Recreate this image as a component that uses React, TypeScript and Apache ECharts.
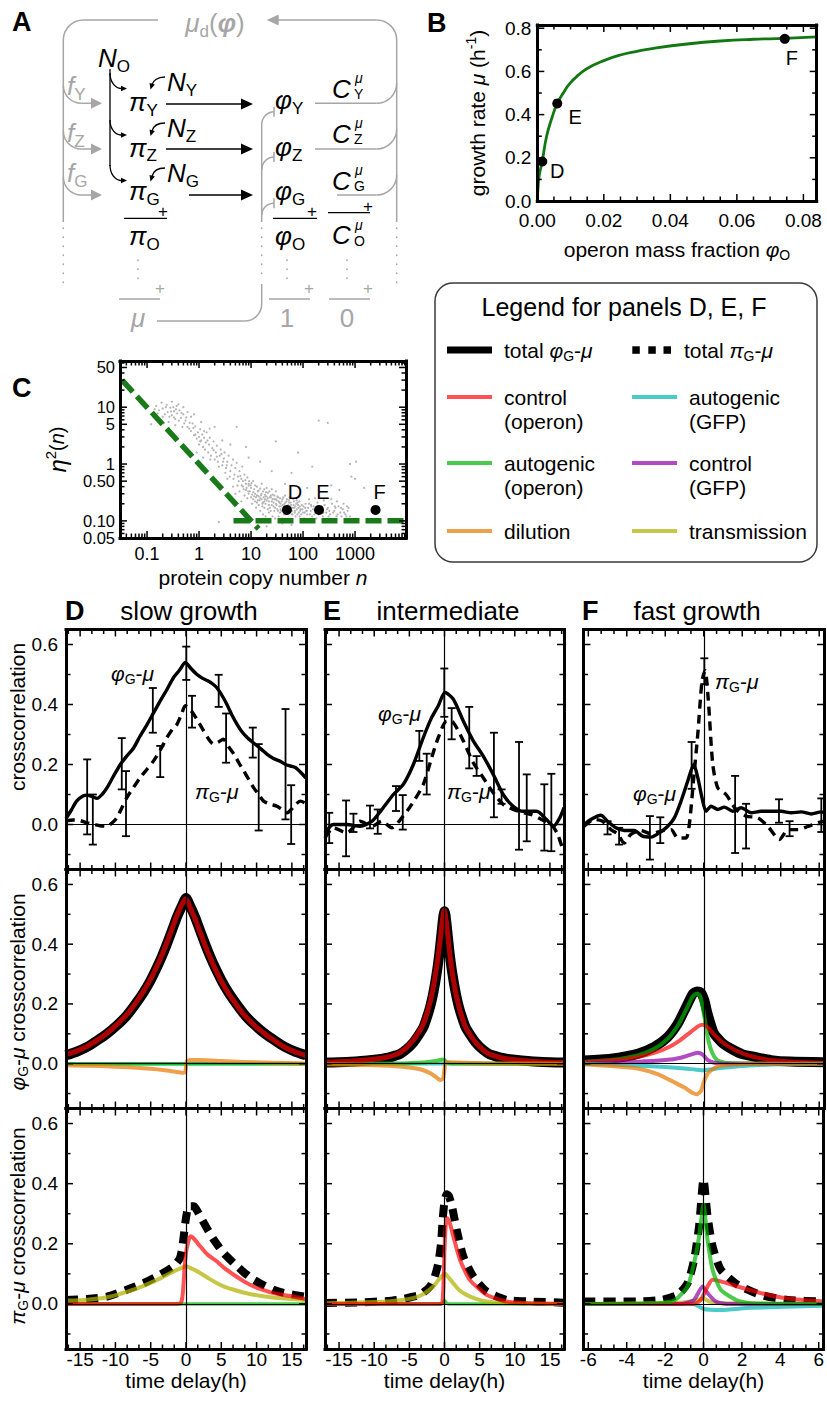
import { useEffect, useRef } from "react";
import * as echarts from "echarts";

const FONT = "'Liberation Sans', Arial, Helvetica, sans-serif";
const BLACK = "#000000";
const GRAY = "#a6a6a6";
const DARK_GREEN = "#1a7a1a";
const RED = "rgba(255,0,0,0.68)";
const GREEN = "rgba(0,180,0,0.7)";
const CYAN = "rgba(0,178,178,0.7)";
const PURPLE = "rgba(145,0,170,0.7)";
const ORANGE = "rgba(232,120,0,0.7)";
const OLIVE = "rgba(178,178,0,0.72)";

// ---------- Panel B: growth law ----------
const operonFraction = [0, 0.0002, 0.0006, 0.0015, 0.0028, 0.0045, 0.006, 0.008, 0.0098, 0.0125, 0.015, 0.02, 0.025, 0.03, 0.035, 0.045, 0.055, 0.065, 0.0744, 0.084];
const growthRate = [0, 0.06, 0.12, 0.185, 0.3, 0.39, 0.452, 0.505, 0.545, 0.585, 0.614, 0.65, 0.676, 0.693, 0.707, 0.727, 0.741, 0.749, 0.753, 0.76];
const conditionNames = ["D", "E", "F"];
const conditionFraction = [0.0015, 0.006, 0.0744];
const conditionRate = [0.183, 0.452, 0.751];
const fractionTicks = [0, 0.02, 0.04, 0.06, 0.08];
const rateTicks = [0, 0.2, 0.4, 0.6, 0.8];

// ---------- Panel C: noise vs copy number ----------
const copyNumberTicks = [0.1, 1, 10, 100, 1000];
const copyNumberTickText = ["0.1", "1", "10", "100", "1000"];
const noiseTicks = [0.05, 0.1, 0.5, 1, 5, 10, 50];
const noiseTickText = ["0.05", "0.10", "0.50", "1", "5", "10", "50"];
const poissonLimit: [number, number][] = [[0.033, 30], [14, 0.072]];
const extrinsicFloor: [number, number][] = [[4.6, 0.1], [9500, 0.1]];
const conditionCopyNumber = [49, 203, 2480];
const conditionNoise = [0.156, 0.156, 0.156];
const noiseCloud: [number, number][] = [
  [0.15, 10.5], [0.17, 8.8], [0.19, 12], [0.2, 9.5], [0.22, 7.5], [0.24, 11], [0.25, 8.2], [0.27, 6.8], [0.28, 9.8], [0.3, 12.5],
  [0.3, 7.2], [0.32, 10], [0.33, 8.5], [0.35, 6.2], [0.36, 9.2], [0.38, 7.8], [0.4, 11.2], [0.18, 6], [0.13, 7.2], [0.21, 5.2],
  [0.26, 5.5], [0.45, 6.5], [0.42, 8.8], [0.5, 7.5], [0.55, 5.8], [0.6, 8.2], [0.12, 5], [0.35, 4.8], [0.48, 4.5], [0.65, 4.2],
  [0.6, 4.5], [0.7, 3.8], [0.75, 5.2], [0.8, 3.2], [0.85, 4.6], [0.9, 2.8], [0.95, 3.6], [1, 3], [1, 2.2], [1.05, 4.1],
  [1.1, 2.6], [1.15, 3.3], [1.2, 2], [1.25, 2.9], [1.3, 1.8], [1.35, 2.4], [1.4, 3.6], [1.5, 1.6], [1.55, 2.2], [1.6, 2.9],
  [1.7, 1.4], [1.8, 1.9], [1.9, 2.5], [2, 1.2], [2.1, 1.6], [2.2, 2.1], [2.3, 1.1], [2.5, 1.4], [2.6, 1.8], [2.8, 0.95],
  [3, 1.25], [3.1, 1.6], [3.3, 0.85], [3.5, 1.1], [3.7, 1.4], [4, 0.75], [4.2, 0.95], [4.5, 1.2], [4.8, 0.65], [5, 0.85],
  [5.3, 1.05], [5.6, 0.6], [6, 0.75], [6.5, 0.55], [6.8, 0.9], [7, 0.5], [7.5, 0.65], [8, 0.45], [8.5, 0.58], [9, 0.42],
  [0.9, 1.6], [1.2, 1.3], [2.4, 0.9], [3.2, 0.7], [1.1, 5.5], [0.7, 6.8], [2.8, 2.6], [1.6, 4.2],
  [8, 0.35], [9, 0.3], [10, 0.38], [10, 0.26], [11, 0.32], [12, 0.22], [12, 0.42], [13, 0.28], [14, 0.19], [14, 0.34],
  [15, 0.25], [16, 0.3], [17, 0.21], [18, 0.36], [18, 0.17], [19, 0.27], [20, 0.23], [21, 0.31], [22, 0.19], [23, 0.26],
  [24, 0.15], [25, 0.22], [26, 0.29], [27, 0.18], [28, 0.24], [30, 0.2], [30, 0.33], [32, 0.16], [33, 0.26], [35, 0.21],
  [36, 0.14], [38, 0.18], [40, 0.24], [42, 0.17], [44, 0.2], [46, 0.13], [48, 0.22], [50, 0.16], [52, 0.19], [55, 0.14],
  [58, 0.21], [60, 0.17], [63, 0.13], [66, 0.19], [70, 0.15], [74, 0.2], [78, 0.13], [82, 0.17], [86, 0.12], [90, 0.16],
  [95, 0.19], [100, 0.14], [7, 0.4], [9, 0.45], [11, 0.5], [13, 0.4], [16, 0.45], [20, 0.38], [25, 0.36], [6, 0.33],
  [7.5, 0.28], [8.5, 0.25], [10.5, 0.2], [12.5, 0.17], [15, 0.15], [17, 0.13], [19, 0.12], [22, 0.14], [26, 0.12], [29, 0.11],
  [34, 0.12], [40, 0.11], [45, 0.28], [55, 0.26], [65, 0.24], [75, 0.23], [85, 0.22], [5, 0.3], [5.5, 0.42], [6.5, 0.22],
  [3.5, 0.55], [4.5, 0.4], [11.5, 0.27], [13.5, 0.23], [16.5, 0.2], [18.5, 0.24], [21, 0.16], [24, 0.28], [28, 0.15], [31, 0.23],
  [37, 0.16], [43, 0.15], [47, 0.18], [53, 0.23], [57, 0.16], [62, 0.15], [68, 0.17], [72, 0.12], [80, 0.19], [88, 0.15],
  [110, 0.17], [120, 0.13], [130, 0.2], [140, 0.15], [150, 0.12], [160, 0.18], [175, 0.14], [190, 0.21], [200, 0.13], [220, 0.16],
  [240, 0.12], [260, 0.19], [280, 0.14], [300, 0.17], [330, 0.13], [360, 0.2], [400, 0.15], [440, 0.12], [480, 0.18], [520, 0.14],
  [580, 0.16], [650, 0.13], [720, 0.15], [800, 0.12], [130, 0.24], [170, 0.25], [250, 0.23], [350, 0.24], [450, 0.22], [600, 0.2],
  [105, 0.11], [180, 0.11], [270, 0.105], [115, 0.15], [145, 0.18], [210, 0.15], [320, 0.15], [420, 0.17], [550, 0.12], [700, 0.18],
  [2.4, 0.095], [5.3, 4.5], [0.3, 3.5], [60, 0.7], [150, 0.9], [800, 1.0], [1000, 0.55], [300, 5.3], [200, 5.8], [30, 2.5],
  [8, 2], [1050, 1.1], [850, 0.6], [1500, 0.38], [500, 0.35], [20, 0.08], [60, 0.085], [40, 0.09], [150, 0.095], [15, 1.1],
  [45, 0.45], [120, 0.38], [350, 0.42], [25, 0.75], [9, 1.3], [4, 2.2], [2, 4.5], [80, 1.6], [0.5, 10], [0.8, 7.5],
  [9.5, 0.33], [10.5, 0.29], [11, 0.24], [11.5, 0.36], [12, 0.3], [12.5, 0.26], [13, 0.21], [13.5, 0.33], [14, 0.27], [14.5, 0.23],
  [15, 0.37], [15.5, 0.28], [16, 0.24], [16.5, 0.18], [17, 0.33], [17.5, 0.26], [18, 0.22], [18.5, 0.29], [19, 0.2], [19.5, 0.32],
  [20, 0.27], [21, 0.25], [22, 0.22], [22.5, 0.33], [23, 0.17], [24, 0.26], [25, 0.19], [26, 0.24], [27, 0.21], [28, 0.28],
  [29, 0.17], [30, 0.24], [31, 0.19], [32, 0.27], [33, 0.15], [34, 0.22], [35, 0.18], [36, 0.25], [37, 0.2], [38, 0.15],
  [39, 0.22], [41, 0.19], [42, 0.26], [43, 0.13], [44, 0.17], [46, 0.21], [47, 0.16], [49, 0.24], [51, 0.14], [53, 0.18],
  [54, 0.21], [56, 0.16], [59, 0.19], [61, 0.13], [64, 0.17], [67, 0.22], [69, 0.14], [71, 0.18], [76, 0.16], [79, 0.21],
  [83, 0.14], [87, 0.18], [92, 0.13], [97, 0.16], [102, 0.18], [108, 0.14], [112, 0.2], [118, 0.15], [125, 0.17], [135, 0.13],
  [142, 0.19], [155, 0.16], [165, 0.13], [185, 0.17], [195, 0.14], [230, 0.18], [245, 0.14], [290, 0.16], [310, 0.12], [380, 0.14],
  [410, 0.18], [460, 0.13], [540, 0.17], [620, 0.14], [680, 0.12], [750, 0.17],
  [5.8, 0.5], [6.2, 0.62], [6.6, 0.42], [7.2, 0.36], [7.8, 0.52], [8.2, 0.38], [8.8, 0.33], [9.2, 0.5], [9.8, 0.42], [10.2, 0.46],
  [4.6, 0.55], [3.9, 0.6], [3.4, 0.95], [2.9, 1.1], [2.7, 1.5], [2.2, 1.35], [1.9, 1.75], [1.65, 1.2], [1.45, 2.6], [1.25, 3.8],
  [1.05, 2.5], [0.85, 3.3], [0.78, 4.3], [0.66, 5.3], [0.57, 6.6], [0.52, 5.2], [0.46, 7.9], [0.41, 5.8], [0.37, 10.5], [0.33, 6.6],
  [0.29, 8.4], [0.23, 10], [0.2, 6.8], [0.16, 7.8], [0.14, 9.2],
];

// ---------- Panels D/E/F, top row: measured crosscorrelations ----------
const slowMeasuredPhi: [number, number][] = [[-17, 0.02], [-16.2, 0.05], [-15.5, 0.078], [-14.6, 0.095], [-14, 0.098], [-13.3, 0.093], [-12.6, 0.087], [-11.9, 0.1], [-11.2, 0.122], [-10.3, 0.16], [-9.3, 0.2], [-8.4, 0.228], [-7.4, 0.256], [-6.5, 0.295], [-5.5, 0.334], [-4.6, 0.372], [-3.65, 0.412], [-2.7, 0.45], [-1.76, 0.49], [-0.9, 0.515], [-0.1, 0.54], [0.7, 0.52], [1.56, 0.5], [2.3, 0.488], [2.98, 0.48], [3.7, 0.47], [4.4, 0.455], [5.1, 0.43], [5.8, 0.4], [6.5, 0.365], [7.24, 0.334], [7.9, 0.31], [8.66, 0.29], [9.4, 0.275], [10.1, 0.262], [10.8, 0.248], [11.5, 0.234], [12.4, 0.22], [13.4, 0.21], [14.1, 0.2], [14.8, 0.195], [15.5, 0.19], [16.2, 0.175], [17, 0.155]];
const slowMeasuredPi: [number, number][] = [[-17, 0.012], [-16, 0.015], [-15, 0.013], [-14, 0.005], [-13, 0.0], [-12.2, -0.004], [-11.2, -0.006], [-10.5, 0.005], [-9.8, 0.022], [-9.1, 0.055], [-8.4, 0.089], [-7.4, 0.125], [-6.5, 0.156], [-5.5, 0.185], [-4.6, 0.212], [-3.6, 0.25], [-2.7, 0.29], [-1.9, 0.318], [-1.28, 0.334], [-0.6, 0.37], [-0.1, 0.396], [0.5, 0.385], [1.08, 0.368], [1.8, 0.34], [2.5, 0.312], [3.2, 0.285], [3.9, 0.268], [4.6, 0.275], [5.3, 0.284], [6.0, 0.26], [6.8, 0.234], [7.5, 0.205], [8.2, 0.178], [8.9, 0.15], [9.6, 0.122], [10.3, 0.1], [11, 0.078], [11.9, 0.068], [12.9, 0.061], [13.6, 0.05], [14.35, 0.039], [14.9, 0.05], [15.3, 0.061], [16.2, 0.078], [17, 0.07]];
const slowErrorBars: [number, number, number][] = [[-14, -0.033, 0.217], [-13.2, -0.067, 0.1], [-9.1, 0.117, 0.288], [-8.5, -0.039, 0.178], [-4.7, 0.306, 0.455], [-3.65, 0.158, 0.262], [0.04, 0.482, 0.593], [0.85, 0.323, 0.429], [4.63, 0.392, 0.499], [5.68, 0.206, 0.37], [9.46, 0.223, 0.323], [10.3, -0.02, 0.268], [14.1, 0.017, 0.385], [14.9, -0.065, 0.131]];

const midMeasuredPhi: [number, number][] = [[-17, -0.028], [-15.8, 0.0], [-13.9, 0.0], [-12, -0.006], [-10.3, 0.011], [-8.9, 0.05], [-7.27, 0.1], [-5.85, 0.134], [-4.43, 0.2], [-3.01, 0.29], [-1.82, 0.357], [-0.88, 0.396], [0.07, 0.44], [1.25, 0.418], [2.67, 0.345], [4.09, 0.279], [5.51, 0.228], [6.93, 0.167], [8.35, 0.1], [9.77, 0.061], [11.2, 0.044], [13.1, 0.044], [14.5, 0.017], [15.5, -0.006], [16.4, 0.022], [17, 0.056]];
const midMeasuredPi: [number, number][] = [[-17, -0.045], [-15.8, -0.011], [-13.9, -0.028], [-12, 0.011], [-10.3, -0.006], [-8.9, 0.011], [-7.5, -0.011], [-6.08, 0.022], [-4.66, 0.067], [-3.01, 0.134], [-1.82, 0.223], [-0.88, 0.29], [0.31, 0.345], [1.25, 0.34], [2.67, 0.279], [4.09, 0.206], [5.51, 0.156], [6.93, 0.106], [8.35, 0.067], [10.5, 0.044], [12.4, 0.033], [13.8, 0.017], [15.2, 0.0], [16.1, -0.033], [16.9, -0.089]];
const midErrorBars: [number, number, number][] = [[-16.4, -0.062, 0.039], [-14, -0.106, 0.08], [-12.95, -0.025, 0.036], [-10.6, -0.013, 0.063], [-9.5, -0.031, 0.05], [-6.9, 0.045, 0.128], [-5.94, -0.017, 0.098], [-3.58, 0.212, 0.312], [-2.53, 0.1, 0.236], [-0.03, 0.359, 0.52], [1.02, 0.284, 0.388], [3.52, 0.187, 0.392], [4.57, 0.162, 0.228], [7.03, 0.024, 0.306], [8.12, 0.069, 0.117], [10.6, -0.084, 0.275], [11.7, -0.056, 0.167], [14.2, -0.087, 0.134], [15.2, -0.089, 0.169]];

const fastMeasuredPhi: [number, number][] = [[-6.22, 0], [-5.87, 0.017], [-5.35, 0.031], [-5.0, 0.011], [-4.57, -0.011], [-4.13, -0.02], [-3.61, -0.02], [-3.18, -0.039], [-2.74, -0.042], [-2.31, -0.028], [-1.87, -0.006], [-1.53, 0.022], [-1.18, 0.078], [-0.83, 0.145], [-0.52, 0.2], [-0.31, 0.156], [-0.09, 0.089], [0.12, 0.044], [0.38, 0.061], [0.73, 0.05], [1.07, 0.058], [1.51, 0.044], [1.94, 0.056], [2.46, 0.039], [2.98, 0.044], [3.5, 0.044], [4.03, 0.044], [4.55, 0.039], [5.07, 0.042], [5.59, 0.035], [6.11, 0.042], [6.25, 0.04]];
const fastMeasuredPi: [number, number][] = [[-6.22, -0.006], [-5.7, 0.017], [-5.26, 0.011], [-4.83, -0.017], [-4.48, -0.031], [-4.13, -0.062], [-3.79, -0.033], [-3.27, -0.02], [-2.74, -0.031], [-2.22, -0.022], [-1.7, -0.017], [-1.35, -0.045], [-0.92, -0.045], [-0.75, 0.0], [-0.52, 0.156], [-0.31, 0.301], [-0.09, 0.479], [0.07, 0.513], [0.24, 0.412], [0.47, 0.2], [0.73, 0.122], [1.16, 0.1], [1.68, 0.05], [2.2, 0.028], [2.81, 0.022], [3.33, -0.006], [3.94, -0.05], [4.38, -0.017], [4.9, -0.017], [5.42, -0.006], [5.94, 0.006], [6.25, 0.011]];
const fastErrorBars: [number, number, number][] = [[-5.0, -0.033, 0.011], [-4.4, -0.067, -0.011], [-2.8, -0.117, 0.028], [-2.26, -0.062, 0.024], [-0.63, 0.119, 0.275], [0.03, 0.468, 0.554], [1.63, -0.095, 0.162], [2.2, -0.08, 0.069], [3.91, 0.006, 0.084], [4.46, -0.039, 0.011], [6.11, -0.025, 0.087]];

// ---------- middle row: model φG-μ contributions ----------
const slowPhiTotal: [number, number][] = [[-17, 0.028], [-15.5, 0.04], [-14, 0.056], [-12.6, 0.077], [-11.2, 0.1], [-9.8, 0.128], [-8.4, 0.161], [-7.2, 0.198], [-6, 0.239], [-5, 0.28], [-4.1, 0.323], [-3.4, 0.36], [-2.7, 0.401], [-2, 0.445], [-1.3, 0.49], [-0.6, 0.527], [0, 0.555], [0.6, 0.527], [1.3, 0.49], [2, 0.445], [2.7, 0.401], [3.4, 0.36], [4.1, 0.323], [5, 0.28], [6, 0.239], [7.2, 0.198], [8.4, 0.161], [9.8, 0.128], [11.2, 0.1], [12.6, 0.077], [14, 0.056], [15.5, 0.04], [17, 0.028]];
const slowPhiControl: [number, number][] = [[-17, 0.03], [-15.5, 0.042], [-14, 0.058], [-12.6, 0.079], [-11.2, 0.102], [-9.8, 0.131], [-8.4, 0.164], [-7.2, 0.201], [-6, 0.243], [-5, 0.284], [-4.1, 0.327], [-3.4, 0.364], [-2.7, 0.405], [-2, 0.45], [-1.3, 0.495], [-0.6, 0.532], [0, 0.552], [0.6, 0.522], [1.3, 0.484], [2, 0.44], [2.7, 0.396], [3.4, 0.356], [4.1, 0.319], [5, 0.276], [6, 0.236], [7.2, 0.195], [8.4, 0.159], [9.8, 0.126], [11.2, 0.099], [12.6, 0.076], [14, 0.055], [15.5, 0.039], [17, 0.027]];
const slowPhiDilution: [number, number][] = [[-17, -0.005], [-12, -0.008], [-8, -0.012], [-5, -0.017], [-3, -0.022], [-1.5, -0.027], [-0.5, -0.03], [-0.1, -0.028], [0.1, 0.008], [0.5, 0.012], [2, 0.012], [5, 0.009], [8, 0.006], [12, 0.003], [17, 0.001]];
const slowPhiFlat: [number, number][] = [[-17, 0], [17, 0]];

const midPhiTotal: [number, number][] = [[-17, 0.004], [-14, 0.006], [-11, 0.011], [-9, 0.016], [-8, 0.02], [-7, 0.027], [-6.3, 0.033], [-5.4, 0.048], [-4.4, 0.072], [-3.7, 0.095], [-3, 0.122], [-2.5, 0.155], [-2.06, 0.189], [-1.7, 0.225], [-1.35, 0.268], [-1, 0.32], [-0.74, 0.368], [-0.5, 0.42], [-0.28, 0.47], [-0.12, 0.5], [0, 0.51], [0.12, 0.5], [0.28, 0.47], [0.5, 0.42], [0.74, 0.368], [1, 0.32], [1.35, 0.268], [1.7, 0.225], [2.06, 0.189], [2.5, 0.155], [3, 0.122], [3.7, 0.095], [4.4, 0.072], [5.4, 0.048], [6.3, 0.033], [7, 0.027], [8, 0.02], [9, 0.016], [11, 0.011], [14, 0.006], [17, 0.004]];
const midPhiControl: [number, number][] = [[-17, 0.005], [-14, 0.007], [-11, 0.012], [-9, 0.018], [-8, 0.023], [-7, 0.03], [-6.3, 0.038], [-5.4, 0.054], [-4.4, 0.08], [-3.7, 0.104], [-3, 0.134], [-2.5, 0.168], [-2.06, 0.205], [-1.7, 0.243], [-1.35, 0.29], [-1, 0.342], [-0.74, 0.392], [-0.5, 0.44], [-0.28, 0.484], [-0.12, 0.508], [0, 0.514], [0.12, 0.5], [0.28, 0.47], [0.5, 0.424], [0.74, 0.371], [1, 0.322], [1.35, 0.27], [1.7, 0.226], [2.06, 0.19], [2.5, 0.155], [3, 0.122], [3.7, 0.095], [4.4, 0.072], [5.4, 0.048], [6.3, 0.033], [7, 0.027], [8, 0.02], [9, 0.016], [11, 0.011], [14, 0.006], [17, 0.004]];
const midPhiAutogenic: [number, number][] = [[-17, 0], [-6, 0.001], [-3, 0.004], [-1.5, 0.008], [-0.5, 0.013], [-0.1, 0.014], [0.2, 0.006], [1, 0.001], [17, 0]];
const midPhiDilution: [number, number][] = [[-17, -0.002], [-10, -0.005], [-6, -0.01], [-4, -0.016], [-3, -0.022], [-2, -0.032], [-1.2, -0.045], [-0.6, -0.055], [-0.2, -0.05], [0, -0.02], [0.15, 0.004], [1, 0.005], [3, 0.003], [8, 0.001], [17, 0]];
const midPhiFlat: [number, number][] = [[-17, 0], [17, 0]];

const fastPhiTotal: [number, number][] = [[-6.25, 0.011], [-4.83, 0.017], [-3.44, 0.033], [-2.57, 0.056], [-1.88, 0.089], [-1.35, 0.134], [-0.92, 0.189], [-0.57, 0.234], [-0.35, 0.242], [-0.15, 0.238], [0.03, 0.212], [0.2, 0.167], [0.5, 0.105], [0.73, 0.085], [1.0, 0.067], [1.42, 0.05], [2.0, 0.032], [2.7, 0.022], [3.5, 0.012], [4.5, 0.007], [6.25, 0.005]];
const fastPhiControl: [number, number][] = [[-6.25, 0.005], [-4.5, 0.012], [-3.44, 0.022], [-2.5, 0.038], [-1.8, 0.056], [-1.2, 0.08], [-0.7, 0.105], [-0.3, 0.125], [-0.05, 0.13], [0.2, 0.122], [0.5, 0.1], [1, 0.07], [1.5, 0.05], [2.2, 0.03], [3.2, 0.015], [4.5, 0.007], [6.25, 0.003]];
const fastPhiAutogenic: [number, number][] = [[-6.25, 0.006], [-4.83, 0.012], [-3.44, 0.028], [-2.57, 0.05], [-1.88, 0.083], [-1.35, 0.127], [-0.92, 0.18], [-0.57, 0.225], [-0.35, 0.235], [-0.2, 0.228], [-0.05, 0.19], [0.1, 0.13], [0.25, 0.075], [0.45, 0.035], [0.7, 0.012], [1.2, 0.002], [6.25, 0]];
const fastPhiControlGfp: [number, number][] = [[-6.25, 0], [-3.5, 0.006], [-2, 0.012], [-1.2, 0.02], [-0.6, 0.032], [-0.3, 0.037], [-0.05, 0.03], [0.2, 0.013], [0.5, 0.004], [1, 0], [6.25, 0]];
const fastPhiAutogenicGfp: [number, number][] = [[-6.25, 0], [-3.5, -0.006], [-2, -0.011], [-1, -0.016], [-0.4, -0.02], [0, -0.022], [0.4, -0.019], [1, -0.014], [2, -0.008], [3.5, -0.003], [6.25, 0]];
const fastPhiDilution: [number, number][] = [[-6.25, -0.002], [-4.8, -0.008], [-3.44, -0.016], [-2.4, -0.035], [-1.6, -0.06], [-1, -0.08], [-0.6, -0.097], [-0.35, -0.102], [-0.15, -0.092], [0.03, -0.056], [0.2, -0.033], [0.38, -0.022], [0.7, -0.01], [1.2, -0.004], [3, 0], [6.25, 0]];

// ---------- bottom row: model πG-μ contributions ----------
const slowPiTotal: [number, number][] = [[-17, 0.013], [-14, 0.016], [-11.2, 0.024], [-8.4, 0.047], [-6, 0.069], [-3.65, 0.097], [-1.76, 0.125], [-0.9, 0.15], [-0.57, 0.181], [-0.3, 0.23], [-0.1, 0.27], [0.1, 0.3], [0.38, 0.325], [1.08, 0.325], [2, 0.292], [3, 0.25], [3.92, 0.214], [5.3, 0.17], [6.76, 0.136], [8.2, 0.105], [9.6, 0.08], [11, 0.062], [12.4, 0.047], [13.8, 0.037], [15.3, 0.03], [17, 0.024]];
const slowPiControl: [number, number][] = [[-17, 0], [-1.5, 0], [-0.9, 0.001], [-0.6, 0.01], [-0.4, 0.05], [-0.2, 0.12], [0, 0.17], [0.3, 0.205], [0.6, 0.225], [1, 0.22], [2, 0.192], [3, 0.165], [4.4, 0.141], [5.5, 0.118], [6.76, 0.097], [8.2, 0.075], [9.6, 0.058], [11, 0.046], [12.4, 0.036], [14, 0.029], [15.3, 0.024], [17, 0.016]];
const slowPiTransmission: [number, number][] = [[-17, 0.011], [-14, 0.014], [-11.2, 0.022], [-8.4, 0.04], [-6, 0.06], [-3.65, 0.085], [-1.76, 0.108], [-0.6, 0.12], [0, 0.125], [0.6, 0.12], [2, 0.103], [3.2, 0.085], [4.4, 0.069], [5.5, 0.057], [6.76, 0.047], [9, 0.033], [11.5, 0.024], [14, 0.018], [17, 0.013]];
const slowPiFlat: [number, number][] = [[-17, 0], [17, 0]];

const midPiTotal: [number, number][] = [[-17, 0.003], [-12, 0.005], [-8, 0.01], [-6, 0.016], [-4.5, 0.024], [-3.48, 0.03], [-2.06, 0.058], [-1.4, 0.09], [-0.88, 0.136], [-0.5, 0.2], [-0.26, 0.281], [0, 0.34], [0.3, 0.365], [0.6, 0.36], [1.06, 0.325], [1.73, 0.247], [2.67, 0.158], [4.09, 0.091], [6, 0.041], [8.84, 0.013], [12.1, 0.008], [17, 0.004]];
const midPiControl: [number, number][] = [[-17, 0], [-0.5, 0], [-0.3, 0.005], [-0.15, 0.06], [0, 0.18], [0.2, 0.27], [0.4, 0.285], [0.8, 0.265], [1.25, 0.225], [2.2, 0.147], [3.6, 0.08], [6, 0.03], [8.8, 0.008], [12, 0.002], [17, 0]];
const midPiTransmission: [number, number][] = [[-17, 0.002], [-10, 0.006], [-6, 0.013], [-3.48, 0.027], [-1.6, 0.058], [-0.64, 0.086], [0.1, 0.1], [0.5, 0.09], [1.25, 0.069], [2, 0.048], [3.14, 0.03], [4.5, 0.017], [6, 0.008], [9, 0.002], [17, 0]];
const midPiAutogenic: [number, number][] = [[-17, 0], [-0.6, 0], [-0.2, 0.004], [0, 0.011], [0.2, 0.004], [0.6, 0], [17, 0]];

const fastPiTotal: [number, number][] = [[-6.25, 0.008], [-3.44, 0.008], [-2.22, 0.013], [-1.35, 0.03], [-0.83, 0.069], [-0.49, 0.147], [-0.23, 0.259], [0, 0.415], [0.21, 0.292], [0.47, 0.192], [0.9, 0.114], [1.77, 0.064], [2.98, 0.03], [4.38, 0.013], [6.25, 0.008]];
const fastPiAutogenic: [number, number][] = [[-6.25, 0], [-2.57, 0.002], [-1.53, 0.011], [-0.83, 0.058], [-0.49, 0.136], [-0.23, 0.225], [0, 0.331], [0.21, 0.214], [0.47, 0.114], [0.9, 0.047], [1.77, 0.011], [2.5, 0.002], [6.25, 0]];
const fastPiControl: [number, number][] = [[-6.25, 0], [-0.5, 0], [-0.14, 0.013], [0.21, 0.058], [0.47, 0.08], [0.9, 0.075], [1.77, 0.058], [2.98, 0.036], [4.38, 0.018], [6.25, 0.008]];
const fastPiControlGfp: [number, number][] = [[-6.25, 0], [-1.2, 0], [-0.5, 0.013], [-0.05, 0.058], [0.21, 0.036], [0.64, 0.008], [1.2, 0], [6.25, 0]];
const fastPiAutogenicGfp: [number, number][] = [[-6.25, 0], [-0.5, 0], [0, -0.017], [0.9, -0.02], [2.46, -0.013], [6.25, -0.006]];
const fastPiTransmission: [number, number][] = [[-6.25, 0], [-1.5, 0.003], [-0.5, 0.01], [0, 0.018], [0.3, 0.008], [1, 0.002], [6.25, 0]];

const wideDelayTicks = [-15, -10, -5, 0, 5, 10, 15];
const narrowDelayTicks = [-6, -4, -2, 0, 2, 4, 6];
const correlationTicks = [0, 0.2, 0.4, 0.6];
const correlationMinor = [-0.1, 0.1, 0.3, 0.5];

// ---------- helpers ----------
function richSet(size: number, sub: number, color: string) {
  const lh = Math.round(size * 1.25);
  const base = { fontFamily: FONT, color, fill: color };
  return {
    n: { ...base, fontSize: size, lineHeight: lh },
    i: { ...base, fontSize: size, lineHeight: lh, fontStyle: "italic" },
    b: { ...base, fontSize: size, lineHeight: lh, fontStyle: "italic", fontWeight: "bold" },
    s: { ...base, fontSize: sub, lineHeight: sub, verticalAlign: "bottom" },
    u: { ...base, fontSize: sub, lineHeight: sub, verticalAlign: "top" },
  };
}

const lg10 = (v: number) => Math.log10(v);

function buildOption() {
  const grid: any[] = [];
  const xAxis: any[] = [];
  const yAxis: any[] = [];
  const series: any[] = [];
  const g: any[] = [];

  function axisPart(a: any, gi: number, pos: string, lineShown = true) {
    return {
      type: "value", gridIndex: gi, min: a.min, max: a.max, position: pos, z: 5,
      axisLine: { show: lineShown, onZero: false, lineStyle: { color: BLACK, width: 3, cap: "square" } },
      axisTick: { show: false },
      axisLabel: { show: false },
      splitLine: { show: false },
    };
  }
  const labelStyle = (a: any, values: number[]) => ({
    show: true, customValues: values, formatter: a.fmt, margin: a.margin, color: BLACK,
    fontSize: a.fontSize || 19, fontFamily: FONT, showMinLabel: true, showMaxLabel: true, lineHeight: a.fontSize || 19,
  });

  // frame: four thick axis lines, labels on the bottom/left axes, inward ticks on all four sides
  function frame(box: number[], xa: any, ya: any) {
    const gi = grid.length;
    grid.push({ left: box[0], top: box[1], width: box[2], height: box[3] });
    const xi = xAxis.length;
    const yi = yAxis.length;
    const mx: any = axisPart(xa, gi, "bottom");
    if (xa.showLabels) mx.axisLabel = labelStyle(xa, xa.labels);
    if (xa.name) {
      Object.assign(mx, { name: xa.name, nameLocation: "middle", nameGap: xa.nameGap, nameTextStyle: { fontSize: 21, fontFamily: FONT, color: BLACK, rich: xa.rich } });
    }
    const my: any = axisPart(ya, gi, "left");
    if (ya.showLabels) my.axisLabel = labelStyle(ya, ya.labels);
    if (ya.name) {
      Object.assign(my, { name: ya.name, nameLocation: "middle", nameRotate: 90, nameGap: ya.nameGap, nameTextStyle: { fontSize: 21, fontFamily: FONT, color: BLACK, rich: ya.rich } });
    }
    xAxis.push(mx, axisPart(xa, gi, "top"));
    yAxis.push(my, axisPart(ya, gi, "right"));
    // crowded bottom label on its own axis so that it is not dropped by the overlap rule
    if (ya.extraLabels) {
      const extra: any = axisPart(ya, gi, "left", false);
      extra.axisLabel = labelStyle(ya, ya.extraLabels);
      yAxis.push(extra);
    }
    const ax = { xi, yi };

    const tickData: number[][] = [];
    xa.majors.forEach((v: number) => tickData.push([v, 0, 7]));
    xa.minors.forEach((v: number) => tickData.push([v, 0, 4.5]));
    ya.majors.forEach((v: number) => tickData.push([v, 1, 7]));
    ya.minors.forEach((v: number) => tickData.push([v, 1, 4.5]));
    series.push({
      type: "custom", xAxisIndex: xi, yAxisIndex: yi, data: tickData, silent: true, z: 6,
      encode: { x: 0, y: 1 },
      renderItem: (_p: any, api: any) => {
        const v = api.value(0), kind = api.value(1), len = api.value(2);
        const st = { stroke: BLACK, lineWidth: 1.5 };
        if (kind === 0) {
          const b = api.coord([v, ya.min]);
          const t = api.coord([v, ya.max]);
          return { type: "group", children: [
            { type: "line", shape: { x1: b[0], y1: b[1], x2: b[0], y2: b[1] - len }, style: st },
            { type: "line", shape: { x1: t[0], y1: t[1], x2: t[0], y2: t[1] + len }, style: st },
          ] };
        }
        const l = api.coord([xa.min, v]);
        const r = api.coord([xa.max, v]);
        return { type: "group", children: [
          { type: "line", shape: { x1: l[0], y1: l[1], x2: l[0] + len, y2: l[1] }, style: st },
          { type: "line", shape: { x1: r[0], y1: r[1], x2: r[0] - len, y2: r[1] }, style: st },
        ] };
      },
    });
    return ax;
  }

  const zeroLines = {
    silent: true, symbol: ["none", "none"], label: { show: false },
    lineStyle: { color: BLACK, width: 1.2, type: "solid", opacity: 1 },
    emphasis: { disabled: true },
    data: [{ xAxis: 0 }, { yAxis: 0 }],
  };

  function line(ax: any, data: any, color: string, width: number, opts: any = {}) {
    series.push({
      type: "line", xAxisIndex: ax.xi, yAxisIndex: ax.yi, data, symbol: "none", showSymbol: false,
      silent: true, clip: true, smooth: opts.smooth ?? 0,
      lineStyle: { color, width, type: opts.dash || "solid", cap: "butt", join: "round" },
      emphasis: { disabled: true }, z: opts.z ?? 2,
      markLine: opts.zero ? zeroLines : undefined,
    });
  }

  function errorBars(ax: any, data: any) {
    series.push({
      type: "custom", xAxisIndex: ax.xi, yAxisIndex: ax.yi, data, silent: true, z: 3,
      encode: { x: 0, y: [1, 2] },
      renderItem: (_p: any, api: any) => {
        const x = api.value(0);
        const top = api.coord([x, api.value(2)]);
        const bot = api.coord([x, api.value(1)]);
        const st = { stroke: BLACK, lineWidth: 1.8 };
        return {
          type: "group",
          children: [
            { type: "line", shape: { x1: top[0], y1: top[1], x2: bot[0], y2: bot[1] }, style: st },
            { type: "line", shape: { x1: top[0] - 4, y1: top[1], x2: top[0] + 4, y2: top[1] }, style: st },
            { type: "line", shape: { x1: bot[0] - 4, y1: bot[1], x2: bot[0] + 4, y2: bot[1] }, style: st },
          ],
        };
      },
    });
  }

  // ---------- Panel B ----------
  const bMinorX: number[] = [];
  for (let k = 1; k <= 16; k++) if (k % 4 !== 0) bMinorX.push(k * 0.005);
  const bAx = frame([537.3, 25, 279.4, 176],
    { min: 0, max: 0.084, labels: fractionTicks, majors: fractionTicks, minors: bMinorX, showLabels: true, margin: 10, fmt: (v: number) => v.toFixed(2),
      name: "{n|operon mass fraction }{i|φ}{s|O}", nameGap: 35, rich: richSet(21, 14, BLACK) },
    { min: 0, max: 0.815, labels: rateTicks, majors: rateTicks, minors: [0.1, 0.3, 0.5, 0.7], showLabels: true, margin: 6, fmt: (v: number) => v.toFixed(1),
      name: "{n|growth rate }{i|μ}{n| (h}{u|-1}{n|)}", nameGap: 47, rich: richSet(21, 14, BLACK) });
  series.push({
    type: "line", xAxisIndex: bAx.xi, yAxisIndex: bAx.yi, symbol: "none", smooth: true, silent: true,
    data: operonFraction.map((v, i) => [v, growthRate[i]]),
    lineStyle: { color: "#127812", width: 2.8 },
  });
  const bOffsets = [[15, 10], [18, 14], [7, 19]];
  series.push({
    type: "scatter", xAxisIndex: bAx.xi, yAxisIndex: bAx.yi, symbolSize: 10, silent: true, z: 4,
    itemStyle: { color: BLACK, opacity: 1 },
    data: conditionNames.map((n, i) => ({
      name: n, value: [conditionFraction[i], conditionRate[i]],
      label: { show: true, position: "inside", offset: bOffsets[i], formatter: "{b}", color: BLACK, opacity: 1, fontSize: 20, fontFamily: FONT },
    })),
  });

  // ---------- Panel C ----------
  const cMinorX: number[] = [];
  const cMinorY: number[] = [];
  for (let e = -2; e <= 3; e++) for (let m = 2; m <= 9; m++) {
    const v = m * Math.pow(10, e);
    if (lg10(v) > -1.52 && lg10(v) < 3.98) cMinorX.push(lg10(v));
    if (m !== 5 && lg10(v) > -1.302 && lg10(v) < 1.813) cMinorY.push(lg10(v));
  }
  const findText = (vals: number[], texts: string[]) => (v: number) => {
    let best = 0;
    vals.forEach((t, i) => { if (Math.abs(lg10(t) - v) < Math.abs(lg10(vals[best]) - v)) best = i; });
    return texts[best];
  };
  const noiseLog = noiseTicks.map(lg10);
  const cAx = frame([120, 361, 286, 177],
    { min: -1.52, max: 3.98, labels: copyNumberTicks.map(lg10), majors: copyNumberTicks.map(lg10), minors: cMinorX, showLabels: true, margin: 7,
      fontSize: 18, fmt: findText(copyNumberTicks, copyNumberTickText),
      name: "{n|protein copy number }{i|n}", nameGap: 26, rich: richSet(21, 14, BLACK) },
    { min: lg10(0.05) - 0.0005, max: 1.813, labels: noiseLog.slice(1), extraLabels: noiseLog.slice(0, 1), majors: noiseLog, minors: cMinorY, showLabels: true, margin: 5,
      fontSize: 16.5,
      fmt: findText(noiseTicks, noiseTickText),
      name: "{e|η}{u|2}{p|(}{i|n}{p|)}", nameGap: 49,
      rich: { ...richSet(20, 15, BLACK), e: { fontFamily: FONT, fontSize: 24, fontStyle: "italic", lineHeight: 28, color: BLACK }, p: { fontFamily: FONT, fontSize: 20, lineHeight: 28, color: BLACK } } });
  series.push({
    type: "scatter", xAxisIndex: cAx.xi, yAxisIndex: cAx.yi, symbolSize: 2.2, silent: true, z: 2,
    itemStyle: { color: "#b4b4b4", opacity: 1 },
    data: noiseCloud.map(([n, e]) => [lg10(n), lg10(e)]),
  });
  [poissonLimit, extrinsicFloor].forEach((seg) => {
    series.push({
      type: "line", xAxisIndex: cAx.xi, yAxisIndex: cAx.yi, symbol: "none", silent: true, z: 3,
      data: seg.map(([n, e]) => [lg10(n), lg10(e)]),
      lineStyle: { color: DARK_GREEN, width: 5.5, type: [16, 6], cap: "butt" },
    });
  });
  const cOffsets = [[8, -18], [4, -18], [4, -18]];
  series.push({
    type: "scatter", xAxisIndex: cAx.xi, yAxisIndex: cAx.yi, symbolSize: 10, silent: true, z: 4,
    itemStyle: { color: BLACK, opacity: 1 },
    data: conditionNames.map((n, i) => ({
      name: n, value: [lg10(conditionCopyNumber[i]), lg10(conditionNoise[i])],
      label: { show: true, position: "inside", offset: cOffsets[i], formatter: "{b}", color: BLACK, opacity: 1, fontSize: 20, fontFamily: FONT },
    })),
  });

  // ---------- Panels D, E, F ----------
  const cols = [
    { left: 66, width: 240, min: -17, max: 17, ticks: wideDelayTicks, step: 5 },
    { left: 325, width: 239, min: -17, max: 17, ticks: wideDelayTicks, step: 5 },
    { left: 583.5, width: 240.5, min: -6.25, max: 6.25, ticks: narrowDelayTicks, step: 2 },
  ];
  const rows = [{ top: 629.5, height: 240 }, { top: 869.5, height: 239 }, { top: 1108.5, height: 240.5 }];
  const axes: any[][] = [];
  rows.forEach((r, ri) => {
    axes.push([]);
    cols.forEach((c, ci) => {
      const minors: number[] = [];
      for (let k = -12; k <= 12; k++) {
        const v = (k * c.step) / 3;
        if (k % 3 !== 0 && v > c.min && v < c.max) minors.push(v);
      }
      const ax = frame([c.left, r.top, c.width, r.height],
        { min: c.min, max: c.max, labels: c.ticks, majors: c.ticks, minors, showLabels: ri === 2, margin: 1, fmt: (v: number) => String(v),
          name: ri === 2 ? "time delay(h)" : undefined, nameGap: 20, rich: undefined },
        { min: -0.15, max: 0.65, labels: correlationTicks, majors: correlationTicks, minors: correlationMinor, showLabels: ci === 0, margin: 8, fmt: (v: number) => v.toFixed(1) });
      axes[ri].push(ax);
    });
  });

  // top row: measurements with error bars
  const measured = [
    [slowMeasuredPhi, slowMeasuredPi, slowErrorBars],
    [midMeasuredPhi, midMeasuredPi, midErrorBars],
    [fastMeasuredPhi, fastMeasuredPi, fastErrorBars],
  ];
  measured.forEach(([phi, pi, err], ci) => {
    const ax = axes[0][ci];
    line(ax, pi, BLACK, 3.4, { dash: [9, 6], zero: true, smooth: 0.25 });
    line(ax, phi, BLACK, 3.4, { smooth: 0.25 });
    errorBars(ax, err);
  });

  // middle row: φG-μ model
  const S = 0.2;
  let ax = axes[1][0];
  line(ax, slowPhiTotal, BLACK, 10, { zero: true, smooth: S });
  line(ax, slowPhiFlat, CYAN, 3.5);
  line(ax, slowPhiFlat, GREEN, 3.5);
  line(ax, slowPhiControl, RED, 5, { smooth: S });
  line(ax, slowPhiDilution, ORANGE, 4, { smooth: S });
  ax = axes[1][1];
  line(ax, midPhiTotal, BLACK, 10, { zero: true, smooth: S });
  line(ax, midPhiFlat, CYAN, 3.5);
  line(ax, midPhiAutogenic, GREEN, 4, { smooth: S });
  line(ax, midPhiControl, RED, 5, { smooth: S });
  line(ax, midPhiDilution, ORANGE, 4, { smooth: S });
  ax = axes[1][2];
  line(ax, fastPhiTotal, BLACK, 10, { zero: true, smooth: S });
  line(ax, fastPhiAutogenic, GREEN, 4, { smooth: S });
  line(ax, fastPhiControl, RED, 4, { smooth: S });
  line(ax, fastPhiControlGfp, PURPLE, 4, { smooth: S });
  line(ax, fastPhiAutogenicGfp, CYAN, 4, { smooth: S });
  line(ax, fastPhiDilution, ORANGE, 4, { smooth: S });

  // bottom row: πG-μ model
  ax = axes[2][0];
  line(ax, slowPiTotal, BLACK, 8, { dash: [12, 8], zero: true, smooth: S });
  line(ax, slowPiFlat, GREEN, 3.5);
  line(ax, slowPiTransmission, OLIVE, 4, { smooth: S });
  line(ax, slowPiControl, RED, 4, { smooth: S });
  ax = axes[2][1];
  line(ax, midPiTotal, BLACK, 8, { dash: [12, 8], zero: true, smooth: S });
  line(ax, midPiAutogenic, GREEN, 3.5, { smooth: S });
  line(ax, midPiTransmission, OLIVE, 4, { smooth: S });
  line(ax, midPiControl, RED, 4, { smooth: S });
  ax = axes[2][2];
  line(ax, fastPiTotal, BLACK, 8, { dash: [12, 8], zero: true, smooth: S });
  line(ax, fastPiTransmission, OLIVE, 4, { smooth: S });
  line(ax, fastPiAutogenicGfp, CYAN, 4, { smooth: S });
  line(ax, fastPiControlGfp, PURPLE, 4, { smooth: S });
  line(ax, fastPiControl, RED, 4, { smooth: S });
  line(ax, fastPiAutogenic, GREEN, 4, { smooth: S });

  // ---------- graphic helpers ----------
  const seg = (x1: number, y1: number, x2: number, y2: number, color: string, w = 1.5, dash?: number[]) =>
    g.push({ type: "line", silent: true, shape: { x1, y1, x2, y2 }, style: { stroke: color, lineWidth: w, lineDash: dash, lineCap: dash ? "round" : "butt" } });
  const bend = (x1: number, y1: number, x2: number, y2: number, color: string, vertFirst: boolean, w = 1.5) => {
    const k = 0.552;
    const c = vertFirst
      ? { cpx1: x1, cpy1: y1 + k * (y2 - y1), cpx2: x2 - k * (x2 - x1), cpy2: y2 }
      : { cpx1: x1 + k * (x2 - x1), cpy1: y1, cpx2: x2, cpy2: y2 - k * (y2 - y1) };
    g.push({ type: "bezierCurve", silent: true, shape: { x1, y1, x2, y2, ...c }, style: { stroke: color, lineWidth: w, fill: "none" } });
  };
  const curve = (shape: any, color: string, w = 1.3) =>
    g.push({ type: "bezierCurve", silent: true, shape, style: { stroke: color, lineWidth: w, fill: "none" } });
  const head = (tx: number, ty: number, dx: number, dy: number, len: number, hw: number, color: string) => {
    const n = Math.hypot(dx, dy);
    const ux = dx / n, uy = dy / n;
    const bx = tx - ux * len, by = ty - uy * len;
    g.push({ type: "polygon", silent: true, shape: { points: [[tx, ty], [bx - uy * hw, by + ux * hw], [bx + uy * hw, by - ux * hw]] }, style: { fill: color } });
  };
  const text = (x: number, y: number, t: string, size: number, color: string, opts: any = {}) =>
    g.push({
      type: "text", silent: true, x, y, rotation: opts.rotation || 0, z: 20,
      style: {
        text: t, rich: opts.rich, fill: color, fontSize: size, fontFamily: FONT,
        fontWeight: opts.bold ? "bold" : "normal", fontStyle: opts.italic ? "italic" : "normal",
        align: opts.align || "left", verticalAlign: "middle",
      },
    });

  // panel letters
  text(12, 22, "A", 27, BLACK, { bold: true });
  text(427, 23, "B", 27, BLACK, { bold: true });
  text(12, 388, "C", 27, BLACK, { bold: true });

  // ---------- Panel A: regulatory scheme ----------
  const rA = richSet(26, 17, BLACK);
  const rAg = richSet(26, 17, GRAY);
  text(215, 23, "{i|μ}{s|d}{n|(}{b|φ}{n|)}", 26, GRAY, { rich: rAg, align: "center" });
  seg(63.3, 40, 63.3, 222, GRAY);
  bend(63.3, 40, 83.3, 20, GRAY, true);
  seg(83.3, 20, 158, 20, GRAY);
  seg(277, 20, 376.7, 20, GRAY);
  head(266.7, 20, -1, 0, 12, 5.5, GRAY);
  bend(376.7, 20, 396.7, 40, GRAY, false);
  seg(396.7, 40, 396.7, 222, GRAY);

  const branchY = [103.3, 149, 195];
  const subs = ["Y", "Z", "G"];
  branchY.forEach((yb) => {
    bend(63.3, yb - 18, 81.3, yb, GRAY, true);
    seg(81.3, yb, 92, yb, GRAY);
    head(102, yb, 1, 0, 11, 5.5, GRAY);
  });
  [86, 133, 173].forEach((y, i) => text(67, y, `{i|f}{s|${subs[i]}}`, 26, GRAY, { rich: rAg }));

  [[315, 103.3], [315, 149], [337, 195]].forEach(([xs, yr]) => {
    seg(xs, yr, 376.7, yr, GRAY);
    bend(376.7, yr, 396.7, yr - 20, GRAY, false);
  });

  seg(261.7, 125, 261.7, 222, GRAY);
  [[125, 111.7], [170, 157], [215, 203.3]].forEach(([ys, ye]) => {
    bend(261.7, ys, 274, ye, GRAY, true);
    seg(274, ye - 5, 274, ye + 5, GRAY, 1.5);
  });
  seg(261.7, 284, 261.7, 304, GRAY);
  bend(261.7, 304, 244.7, 321, GRAY, true);
  seg(244.7, 321, 157, 321, GRAY);

  [[63.3, 228, 285], [396.7, 228, 285], [261.7, 228, 281], [138, 260, 287], [287, 260, 287], [347, 260, 287]].forEach(([x, y1, y2]) =>
    seg(x, y1, x, y2, GRAY, 1.6, [0.5, 8.5]));
  seg(119, 299, 160, 299, GRAY, 1.3);
  seg(269, 299, 310, 299, GRAY, 1.3);
  seg(329, 299, 370, 299, GRAY, 1.3);
  [160, 309, 368].forEach((x) => text(x, 288, "+", 17, GRAY, { align: "center" }));
  text(138, 318, "μ", 26, GRAY, { italic: true, align: "center" });
  text(287, 318, "1", 26, GRAY, { align: "center" });
  text(347, 318, "0", 26, GRAY, { align: "center" });

  // black network
  text(98, 58, "{i|N}{s|O}", 26, BLACK, { rich: rA });
  seg(110, 69, 110, 166, BLACK, 1.3);
  [[73, 88.5], [120, 135], [165, 180.5]].forEach(([ys, ye]) => {
    bend(110, ys, 121, ye, BLACK, true, 1.3);
    head(127, ye, 1, 0, 6, 2.8, BLACK);
  });
  [[82, 88.5], [128, 135], [173, 180.5]].forEach(([yn, ye], i) => {
    text(167, yn, `{i|N}{s|${subs[i]}}`, 26, BLACK, { rich: rA });
    curve({ x1: 165, y1: yn - 5, cpx1: 157, cpy1: yn - 5, cpx2: 153, cpy2: yn - 1, x2: 152, y2: ye - 4 }, BLACK);
    head(150.5, ye + 1, -0.3, 1, 6, 2.8, BLACK);
  });
  [102, 147.5, 191].forEach((y, i) => text(129, y, `{i|π}{s|${subs[i]}}`, 26, BLACK, { rich: rA }));
  text(163, 211, "+", 17, BLACK, { align: "center" });
  seg(124, 218.3, 167, 218.3, BLACK, 1.3);
  text(129, 236, "{i|π}{s|O}", 26, BLACK, { rich: rA });

  [[166, 104], [166, 149], [189, 195]].forEach(([xs, y]) => {
    seg(xs, y, 243, y, BLACK, 1.5);
    head(253, y, 1, 0, 12, 5.5, BLACK);
  });

  [100, 147, 191].forEach((y, i) => text(275, y, `{i|φ}{s|${subs[i]}}`, 26, BLACK, { rich: rA }));
  text(312, 211, "+", 17, BLACK, { align: "center" });
  seg(273, 218.3, 317, 218.3, BLACK, 1.3);
  text(275, 236, "{i|φ}{s|O}", 26, BLACK, { rich: rA });

  [[88.5, "Y"], [133.5, "Z"], [180.5, "G"], [235, "O"]].forEach(([y, s]: any) => {
    text(332, y, "C", 26, BLACK, { italic: true });
    text(355, y - 10.5, "μ", 14, BLACK, { italic: true });
    text(354, y + 5.5, s, 14, BLACK);
  });
  text(368, 206, "+", 17, BLACK, { align: "center" });
  seg(328, 212.7, 370, 212.7, BLACK, 1.3);

  // ---------- legend for D, E, F ----------
  g.push({ type: "rect", silent: true, shape: { x: 435, y: 283, width: 382, height: 279, r: 18 }, style: { fill: "none", stroke: "#3a3a3a", lineWidth: 1.5 } });
  text(624, 307, "Legend for panels D, E, F", 25, BLACK, { align: "center" });
  const rL = richSet(21, 14, BLACK);
  seg(447, 350, 492, 350, BLACK, 7);
  text(504, 350, "{n|total }{i|φ}{s|G}{n|-}{i|μ}", 21, BLACK, { rich: rL });
  [632.3, 648.3, 663.5].forEach((x) => g.push({ type: "rect", silent: true, shape: { x, y: 346.3, width: 7.5, height: 7.5 }, style: { fill: BLACK } }));
  text(684, 350, "{n|total }{i|π}{s|G}{n|-}{i|μ}", 21, BLACK, { rich: rL });
  const entries: any[] = [
    [447, 397, RED, ["control", "(operon)"]],
    [632, 397, CYAN, ["autogenic", "(GFP)"]],
    [447, 463, GREEN, ["autogenic", "(operon)"]],
    [632, 463, PURPLE, ["control", "(GFP)"]],
    [447, 531, ORANGE, ["dilution"]],
    [632, 531, OLIVE, ["transmission"]],
  ];
  entries.forEach(([x, y, color, lines]) => {
    seg(x, y, x + 45, y, color, 4);
    lines.forEach((l: string, k: number) => text(x + 57, y + k * 24, l, 21, BLACK));
  });

  // ---------- titles and annotations for D, E, F ----------
  text(65, 611, "D", 27, BLACK, { bold: true });
  text(189, 611, "slow growth", 26, BLACK, { align: "center" });
  text(323, 611, "E", 27, BLACK, { bold: true });
  text(448, 611, "intermediate", 26, BLACK, { align: "center" });
  text(582, 611, "F", 27, BLACK, { bold: true });
  text(697, 611, "fast growth", 26, BLACK, { align: "center" });

  const rT = richSet(21, 14, BLACK);
  const phiLabel = "{i|φ}{s|G}{n|-}{i|μ}";
  const piLabel = "{i|π}{s|G}{n|-}{i|μ}";
  text(111, 673, phiLabel, 21, BLACK, { rich: rT });
  text(195, 791, piLabel, 21, BLACK, { rich: rT });
  text(378, 713, phiLabel, 21, BLACK, { rich: rT });
  text(447, 791, piLabel, 21, BLACK, { rich: rT });
  text(715, 681, piLabel, 21, BLACK, { rich: rT });
  text(633, 793, phiLabel, 21, BLACK, { rich: rT });

  const rY = richSet(21, 14, BLACK);
  text(17, 717, "crosscorrelation", 21, BLACK, { rotation: Math.PI / 2, align: "center" });
  text(17, 992, "{i|φ}{s|G}{n|-}{i|μ}{n| crosscorrelation}", 21, BLACK, { rotation: Math.PI / 2, align: "center", rich: rY });
  text(17, 1226, "{i|π}{s|G}{n|-}{i|μ}{n| crosscorrelation}", 21, BLACK, { rotation: Math.PI / 2, align: "center", rich: rY });

  return {
    animation: false,
    backgroundColor: "#ffffff",
    textStyle: { fontFamily: FONT },
    grid, xAxis, yAxis, series,
    graphic: g,
  };
}

export default function App() {
  const ref = useRef<HTMLDivElement>(null);
  useEffect(() => {
    if (!ref.current) return;
    const chart = echarts.init(ref.current, null, { renderer: "svg" });
    chart.setOption(buildOption() as any);
    return () => chart.dispose();
  }, []);
  return <div ref={ref} style={{ position: "absolute", left: 0, top: 0, width: 827, height: 1402, background: "#fff" }} />;
}
